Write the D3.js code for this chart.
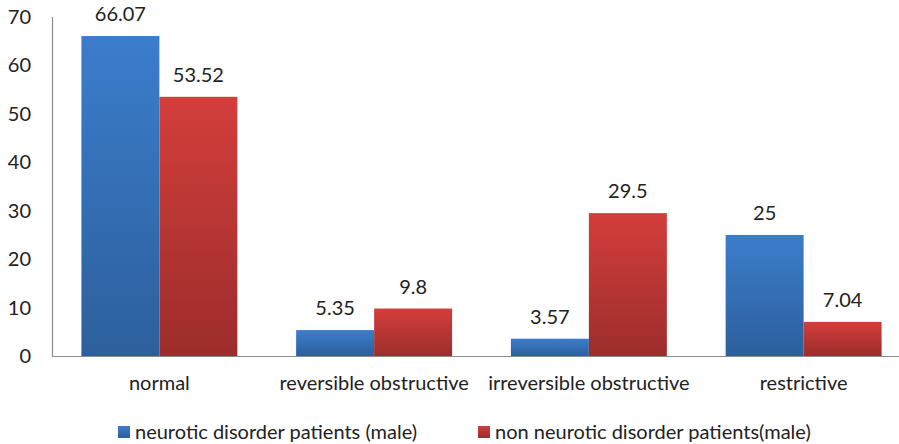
<!DOCTYPE html>
<html><head><meta charset="utf-8">
<script src="https://cdn.jsdelivr.net/npm/d3@7"></script>
<style>body{margin:0;background:#fff}svg{display:block}</style>
</head><body>
<script>
const categories = ["normal", "reversible obstructive", "irreversible obstructive", "restrictive"];
const seriesNames = ["neurotic disorder patients (male)", "non neurotic disorder patients(male)"];
const neurotic = [66.07, 5.35, 3.57, 25];
const nonNeurotic = [53.52, 9.8, 29.5, 7.04];
const valueLabels = [["66.07","5.35","3.57","25"],["53.52","9.8","29.5","7.04"]];
const yTicks = [0,10,20,30,40,50,60,70];

const W = 899, H = 444;
const font = "Lato, sans-serif";
const fs = 20;
const svg = d3.select("body").append("svg").attr("width", W).attr("height", H);
const defs = svg.append("defs");
const grads = [["gBlue","#3b7dcc","#2d5f9c"],["gRed","#d33e3b","#9c2d2b"]];
grads.forEach(([id,c1,c2])=>{
  const g = defs.append("linearGradient").attr("id",id).attr("x1",0).attr("y1",0).attr("x2",0).attr("y2",1);
  g.append("stop").attr("offset","0%").attr("stop-color",c1);
  g.append("stop").attr("offset","100%").attr("stop-color",c2);
});

const x0 = 52, x1 = 911, yBase = 356, yTop = 17;
const x = d3.scaleBand().domain(categories).range([x0, x1]).paddingInner(0).paddingOuter(0);
const y = d3.scaleLinear().domain([0,70]).range([yBase, yTop]);
const inner = d3.scaleBand().domain([0,1]).range([0, x.bandwidth()]).paddingInner(0).paddingOuter(0.377);

const series = [neurotic, nonNeurotic];
series.forEach((vals, si) => {
  svg.append("g").selectAll("rect").data(vals).enter().append("rect")
    .attr("x", (d,i)=> x(categories[i]) + inner(si))
    .attr("width", inner.bandwidth())
    .attr("y", d=> y(d))
    .attr("height", d=> y(0)-y(d))
    .attr("fill", `url(#${grads[si][0]})`);
  svg.append("g").selectAll("text").data(vals).enter().append("text")
    .attr("x", (d,i)=> x(categories[i]) + inner(si) + inner.bandwidth()/2)
    .attr("y", d=> y(d) - 15)
    .attr("text-anchor","middle")
    .attr("font-family", font).attr("font-size", fs).attr("fill","#222")
    .text((d,i)=> valueLabels[si][i]);
});

// axes
svg.append("line").attr("x1",x0).attr("x2",W).attr("y1",yBase+0.5).attr("y2",yBase+0.5).attr("stroke","#8c8c8c").attr("stroke-width",1.2);
svg.append("line").attr("x1",x0+0.5).attr("x2",x0+0.5).attr("y1",yTop).attr("y2",yBase).attr("stroke","#8c8c8c").attr("stroke-width",1.2);

svg.append("g").selectAll("text").data(yTicks).enter().append("text")
  .attr("x", 31).attr("y", d=> y(d)+7)
  .attr("text-anchor","end").attr("font-family",font).attr("font-size",fs).attr("fill","#222")
  .text(d=>d);

svg.append("g").selectAll("text").data(categories).enter().append("text")
  .attr("x", d=> x(d)+x.bandwidth()/2).attr("y", 390)
  .attr("text-anchor","middle").attr("font-family",font).attr("font-size",fs).attr("fill","#222")
  .text(d=>d);

// legend
const legX = [118, 478];
seriesNames.forEach((n,i)=>{
  svg.append("rect").attr("x",legX[i]).attr("y",426).attr("width",12).attr("height",12).attr("fill",`url(#${grads[i][0]})`);
  svg.append("text").attr("x",legX[i]+17).attr("y",439).attr("font-family",font).attr("font-size",fs).attr("fill","#222").text(n);
});
</script>
</body></html>
